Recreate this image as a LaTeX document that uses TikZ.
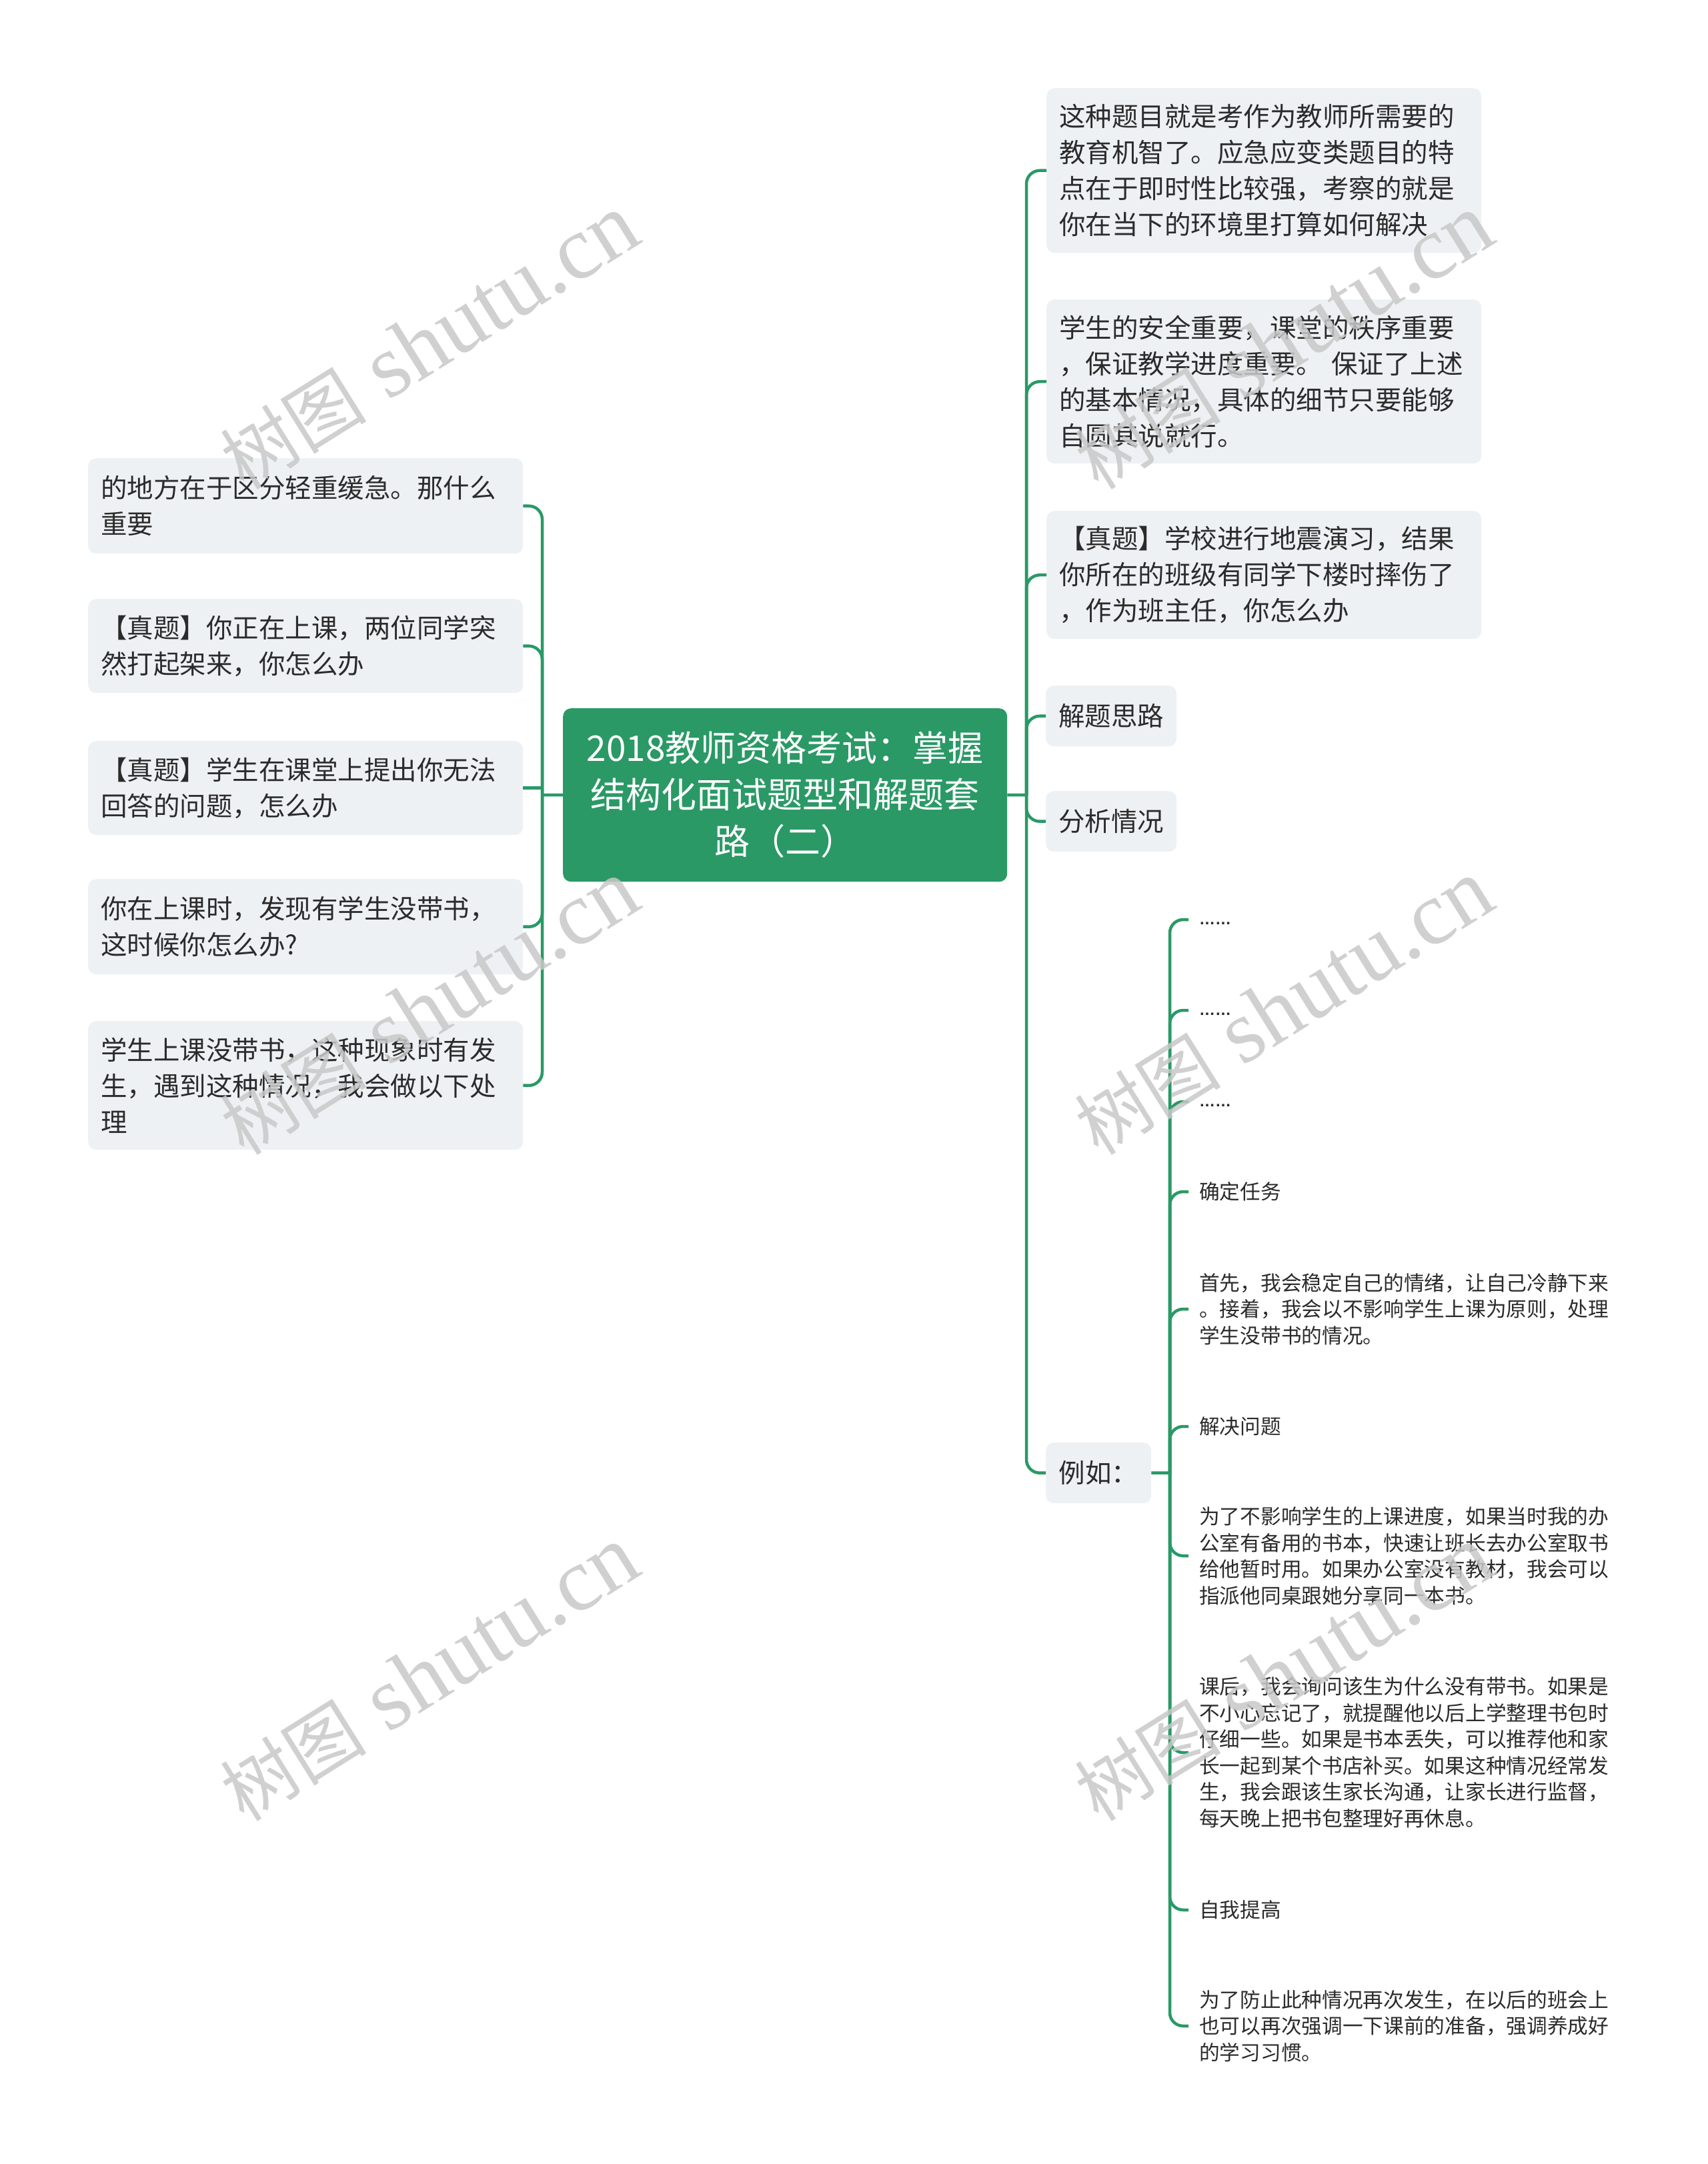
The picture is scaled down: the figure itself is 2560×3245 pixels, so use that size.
\documentclass[tikz,border=0pt]{standalone}
\usepackage{fontspec}
\setmainfont{Noto Sans CJK SC}
\newfontfamily\latinsans{Liberation Sans}
\newfontfamily\wmserif{Liberation Serif}
\definecolor{mmgreen}{HTML}{2A9966}
\definecolor{boxgray}{HTML}{EEF1F4}
\definecolor{textc}{HTML}{2B2B2B}
\definecolor{wmgray}{RGB}{200,200,200}
\begin{document}
\begin{tikzpicture}[x=1pt,y=-1pt,
  box/.style={fill=boxgray, rounded corners=12, text=textc, anchor=north west,
    font=\fontsize{39.5}{54}\selectfont, inner xsep=19, inner ysep=0},
  longbox/.style={box, text width=614, align=left},
  rootbox/.style={fill=mmgreen, rounded corners=12, text=white, anchor=north west,
    font=\fontsize{53}{70}\selectfont, align=center, text width=630, inner xsep=18, inner ysep=0},
  sub/.style={anchor=west, text=textc, font=\fontsize{30.7}{39.5}\selectfont, align=left, inner xsep=16, inner ysep=0},
  conn/.style={draw=mmgreen, line width=4.5, rounded corners=20},
  straight/.style={draw=mmgreen, line width=4.5},
  wm/.style={text=wmgray, opacity=0.85, rotate=32, inner sep=0}]
\useasboundingbox (0,0) rectangle (2560,3245);
\fill[white] (0,0) rectangle (2560,3245);

% root
\node[rootbox, minimum width=666, minimum height=260] (root) at (844,1062)
  {2018教师资格考试：掌握\\结构化面试题型和解题套\\路（二）};

% left children
\node[longbox, minimum height=143] (l1) at (132,687) {的地方在于区分轻重缓急。那什么\\重要};
\node[longbox, minimum height=141] (l2) at (132,898) {【真题】你正在上课，两位同学突\\然打起架来，你怎么办};
\node[longbox, minimum height=141] (l3) at (132,1111) {【真题】学生在课堂上提出你无法\\回答的问题，怎么办};
\node[longbox, minimum height=143] (l4) at (132,1318) {你在上课时，发现有学生没带书，\\这时候你怎么办?};
\node[longbox, minimum height=193] (l5) at (132,1531) {学生上课没带书，这种现象时有发\\生，遇到这种情况，我会做以下处\\理};

% right children
\node[longbox, minimum height=247] (r1) at (1569,132) {这种题目就是考作为教师所需要的\\教育机智了。应急应变类题目的特\\点在于即时性比较强，考察的就是\\你在当下的环境里打算如何解决};
\node[longbox, minimum height=246] (r2) at (1569,449) {学生的安全重要，课堂的秩序重要\\，保证教学进度重要。 保证了上述\\的基本情况，具体的细节只要能够\\自圆其说就行。};
\node[longbox, minimum height=192] (r3) at (1569,766) {【真题】学校进行地震演习，结果\\你所在的班级有同学下楼时摔伤了\\，作为班主任，你怎么办};
\node[box, minimum width=196, minimum height=91] (r4) at (1568,1028) {解题思路};
\node[box, minimum width=196, minimum height=91] (r5) at (1568,1186) {分析情况};
\node[box, minimum width=158, minimum height=91] (r6) at (1568,2163) {例如：};

% sub children of r6
\node[sub] (s1) at (1782,1379) {{\latinsans\bfseries\fontsize{24}{39.5}\selectfont ……}\strut};
\node[sub] (s2) at (1782,1515) {{\latinsans\bfseries\fontsize{24}{39.5}\selectfont ……}\strut};
\node[sub] (s3) at (1782,1652) {{\latinsans\bfseries\fontsize{24}{39.5}\selectfont ……}\strut};
\node[sub] (s4) at (1782,1787) {确定任务};
\node[sub] (s5) at (1782,1963) {首先，我会稳定自己的情绪，让自己冷静下来\\。接着，我会以不影响学生上课为原则，处理\\学生没带书的情况。};
\node[sub] (s6) at (1782,2139) {解决问题};
\node[sub] (s7) at (1782,2333) {为了不影响学生的上课进度，如果当时我的办\\公室有备用的书本，快速让班长去办公室取书\\给他暂时用。如果办公室没有教材，我会可以\\指派他同桌跟她分享同一本书。};
\node[sub] (s8) at (1782,2628) {课后，我会询问该生为什么没有带书。如果是\\不小心忘记了，就提醒他以后上学整理书包时\\仔细一些。如果是书本丢失，可以推荐他和家\\长一起到某个书店补买。如果这种情况经常发\\生，我会跟该生家长沟通，让家长进行监督，\\每天晚上把书包整理好再休息。};
\node[sub] (s9) at (1782,2864) {自我提高};
\node[sub] (s10) at (1782,3038) {为了防止此种情况再次发生，在以后的班会上\\也可以再次强调一下课前的准备，强调养成好\\的学习习惯。};

% connectors: left
\coordinate (lj) at (813,1192);
\draw[straight] (root.west) -- (lj);
\draw[conn] (lj) -- (lj |- l1.east) -- (l1.east);
\draw[conn] (lj) -- (lj |- l2.east) -- (l2.east);
\draw[straight] (lj |- l3.east) -- (l3.east);
\draw[conn] (lj) -- (lj |- l4.east) -- (l4.east);
\draw[conn] (lj) -- (lj |- l5.east) -- (l5.east);

% connectors: right
\coordinate (rj) at (1539,1192);
\draw[straight] (root.east) -- (rj);
\draw[conn] (rj) -- (rj |- r1.west) -- (r1.west);
\draw[conn] (rj) -- (rj |- r2.west) -- (r2.west);
\draw[conn] (rj) -- (rj |- r3.west) -- (r3.west);
\draw[conn] (rj) -- (rj |- r4.west) -- (r4.west);
\draw[conn] (rj) -- (rj |- r5.west) -- (r5.west);
\draw[conn] (rj) -- (rj |- r6.west) -- (r6.west);

% connectors: sub
\coordinate (sj) at (1754,2208.5);
\draw[straight] (r6.east) -- (sj);
\foreach \n in {s1,s2,s3,s4,s5,s6,s7,s8,s9,s10}{
  \draw[conn] (sj) -- (sj |- \n.west) -- (\n.west);
}

% watermarks
\foreach \p/\q in {644/513, 1925/513, 644/1511, 1925/1511, 644/2510, 1925/2510}{
  \node[wm] at (\p,\q) {{\fontsize{110}{110}\selectfont 树图}{\wmserif\fontsize{135}{135}\selectfont\ shutu.cn}};
}
\end{tikzpicture}
\end{document}
